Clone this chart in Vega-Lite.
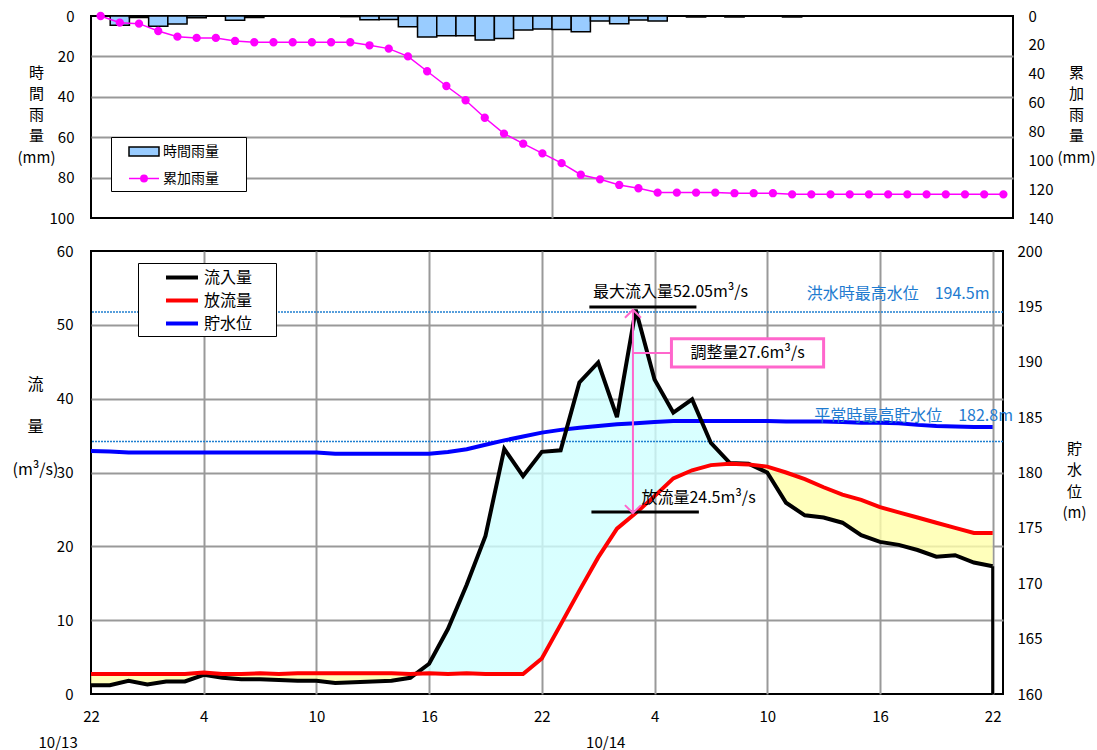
{
  "$schema": "https://vega.github.io/schema/vega-lite/v6.json",
  "padding": {"left": 11, "top": 7, "right": 5, "bottom": 2},
  "config": {
    "font": "Noto Sans CJK JP",
    "view": {"stroke": "black", "strokeWidth": 2},
    "axis": {"labelColor": "black", "titleColor": "black", "labelFontSize": 15, "labelFontWeight": "normal", "titleFontWeight": "normal", "labelFlush": false, "labelOverlap": false},
    "text": {"font": "Noto Sans CJK JP"}
  },
  "datasets": {
    "rain": [
      {"i":0,"rain":0,"cum":0},{"i":1,"rain":4.6,"cum":4.6},{"i":2,"rain":0.7,"cum":5.3},{"i":3,"rain":5.1,"cum":10.4},
      {"i":4,"rain":3.9,"cum":14.3},{"i":5,"rain":0.9,"cum":15.2},{"i":6,"rain":0,"cum":15.2},{"i":7,"rain":2.1,"cum":17.3},
      {"i":8,"rain":0.8,"cum":18.2},{"i":9,"rain":0,"cum":18.2},{"i":10,"rain":0,"cum":18.2},{"i":11,"rain":0,"cum":18.2},
      {"i":12,"rain":0,"cum":18.2},{"i":13,"rain":0.3,"cum":18.2},{"i":14,"rain":1.9,"cum":20.3},{"i":15,"rain":1.7,"cum":22.6},
      {"i":16,"rain":5.3,"cum":28.0},{"i":17,"rain":10.4,"cum":38.3},{"i":18,"rain":9.8,"cum":48.5},{"i":19,"rain":9.8,"cum":58.4},
      {"i":20,"rain":11.9,"cum":70.5},{"i":21,"rain":11.2,"cum":81.5},{"i":22,"rain":6.9,"cum":88.5},{"i":23,"rain":6.4,"cum":95.2},
      {"i":24,"rain":6.7,"cum":102.0},{"i":25,"rain":7.8,"cum":110.0},{"i":26,"rain":2.5,"cum":113.2},{"i":27,"rain":3.8,"cum":117.1},
      {"i":28,"rain":2.0,"cum":119.4},{"i":29,"rain":2.5,"cum":122.4},{"i":30,"rain":0,"cum":122.4},{"i":31,"rain":0.5,"cum":122.4},
      {"i":32,"rain":0,"cum":122.4},{"i":33,"rain":0.5,"cum":122.8},{"i":34,"rain":0,"cum":122.8},{"i":35,"rain":0,"cum":122.8},
      {"i":36,"rain":0.5,"cum":123.6},{"i":37,"rain":0,"cum":123.6},{"i":38,"rain":0,"cum":123.6},{"i":39,"rain":0,"cum":123.6},
      {"i":40,"rain":0,"cum":123.6},{"i":41,"rain":0,"cum":123.6},{"i":42,"rain":0,"cum":123.6},{"i":43,"rain":0,"cum":123.6},
      {"i":44,"rain":0,"cum":123.6},{"i":45,"rain":0,"cum":123.6},{"i":46,"rain":0,"cum":123.6},{"i":47,"rain":0,"cum":123.6}
    ],
    "flow": [
      {"h":0,"in":1.2,"out":2.7,"lvl":181.95},{"h":1,"in":1.2,"out":2.7,"lvl":181.9},{"h":2,"in":1.8,"out":2.7,"lvl":181.8},
      {"h":3,"in":1.3,"out":2.7,"lvl":181.8},{"h":4,"in":1.7,"out":2.7,"lvl":181.8},{"h":5,"in":1.7,"out":2.7,"lvl":181.8},
      {"h":6,"in":2.6,"out":2.9,"lvl":181.8},{"h":7,"in":2.2,"out":2.7,"lvl":181.8},{"h":8,"in":2.0,"out":2.7,"lvl":181.8},
      {"h":9,"in":2.0,"out":2.8,"lvl":181.8},{"h":10,"in":1.9,"out":2.7,"lvl":181.8},{"h":11,"in":1.8,"out":2.8,"lvl":181.8},
      {"h":12,"in":1.8,"out":2.8,"lvl":181.8},{"h":13,"in":1.5,"out":2.8,"lvl":181.7},{"h":14,"in":1.6,"out":2.8,"lvl":181.7},
      {"h":15,"in":1.7,"out":2.8,"lvl":181.7},{"h":16,"in":1.8,"out":2.8,"lvl":181.7},{"h":17,"in":2.2,"out":2.7,"lvl":181.7},
      {"h":18,"in":4.1,"out":2.8,"lvl":181.7},{"h":19,"in":8.8,"out":2.7,"lvl":181.85},{"h":20,"in":14.8,"out":2.8,"lvl":182.1},
      {"h":21,"in":21.4,"out":2.7,"lvl":182.5},{"h":22,"in":33.2,"out":2.7,"lvl":182.9},{"h":23,"in":29.5,"out":2.7,"lvl":183.25},
      {"h":24,"in":32.8,"out":4.8,"lvl":183.6},{"h":25,"in":33.0,"out":9.4,"lvl":183.85},{"h":26,"in":42.2,"out":14.0,"lvl":184.05},
      {"h":27,"in":44.9,"out":18.5,"lvl":184.2},{"h":28,"in":37.5,"out":22.4,"lvl":184.35},{"h":29,"in":52.05,"out":24.5,"lvl":184.45},
      {"h":30,"in":42.6,"out":26.8,"lvl":184.55},{"h":31,"in":38.1,"out":29.2,"lvl":184.65},{"h":32,"in":39.9,"out":30.3,"lvl":184.65},
      {"h":33,"in":34.0,"out":31.0,"lvl":184.65},{"h":34,"in":31.3,"out":31.2,"lvl":184.65},{"h":35,"in":31.2,"out":31.1,"lvl":184.65},
      {"h":36,"in":30.0,"out":30.8,"lvl":184.65},{"h":37,"in":25.9,"out":30.0,"lvl":184.6},{"h":38,"in":24.2,"out":29.1,"lvl":184.6},
      {"h":39,"in":23.9,"out":28.0,"lvl":184.6},{"h":40,"in":23.2,"out":27.0,"lvl":184.55},{"h":41,"in":21.5,"out":26.3,"lvl":184.5},
      {"h":42,"in":20.6,"out":25.3,"lvl":184.5},{"h":43,"in":20.2,"out":24.6,"lvl":184.45},{"h":44,"in":19.5,"out":23.9,"lvl":184.3},
      {"h":45,"in":18.6,"out":23.2,"lvl":184.2},{"h":46,"in":18.8,"out":22.5,"lvl":184.15},{"h":47,"in":17.8,"out":21.8,"lvl":184.1},
      {"h":48,"in":17.3,"out":21.8,"lvl":184.1}
    ],
    "one": [{"n": 1}]
  },
  "spacing": 33,
  "bounds": "flush",
  "resolve": {"scale": {"color": "independent", "fill": "independent", "stroke": "independent", "shape": "independent"}, "legend": {"color": "independent", "fill": "independent", "stroke": "independent", "shape": "independent"}},
  "vconcat": [
    {
      "width": 922,
      "height": 202,
      "data": {"name": "rain"},
      "encoding": {
        "x": {"field": "i", "type": "ordinal", "scale": {"paddingInner": 0, "paddingOuter": 0},
          "axis": {"values": [24], "bandPosition": 0, "grid": true, "gridColor": "#999999", "gridWidth": 2, "labels": false, "ticks": false, "domain": false, "title": null}}
      },
      "layer": [
        {
          "mark": {"type": "bar", "stroke": "black", "strokeWidth": 1.5},
          "encoding": {
            "y": {"field": "rain", "type": "quantitative", "scale": {"domain": [0, 100], "reverse": true, "nice": false},
              "axis": {"orient": "left", "values": [0, 20, 40, 60, 80, 100], "grid": true,
                "gridColor": {"condition": {"test": "datum.value == 0 || datum.value == 100", "value": "transparent"}, "value": "#999999"},
                "gridWidth": 2, "ticks": false, "domain": false, "labelPadding": 17, "labelFontSize": 15,
                "title": ["時", "間", "雨", "量", "(mm)"], "titleAngle": 0, "titleX": -55, "titleY": 49, "titleAlign": "center", "titleBaseline": "top", "titleLineHeight": 21.3, "titleFontSize": 15}},
            "fill": {"datum": "時間雨量", "type": "nominal",
              "scale": {"domain": ["時間雨量", "累加雨量"], "range": ["#99ccff", "#ff00ff"]},
              "legend": {"orient": "none", "legendX": 20, "legendY": 121, "title": null,
                "fillColor": "white", "strokeColor": "black",
                "padding": 5.5, "symbolOffset": 18.5, "labelOffset": 10, "rowPadding": 10, "symbolSize": 256, "symbolStrokeWidth": 1.5, "symbolOpacity": 1,
                "labelFontSize": 14, "labelColor": "black", "labelExpr": "datum.label + '\u3000\u2002\u200b'"}}
          }
        },
        {
          "mark": {"type": "line", "strokeWidth": 1.5, "point": {"filled": true, "size": 40, "color": "#ff00ff"}},
          "encoding": {
            "y": {"field": "cum", "type": "quantitative", "scale": {"domain": [0, 140], "reverse": true, "nice": false},
              "axis": {"orient": "right", "values": [0, 20, 40, 60, 80, 100, 120, 140], "grid": false, "ticks": false, "domain": false,
                "labelPadding": 15, "labelFontSize": 15,
                "title": ["累", "加", "雨", "量", "(mm)"], "titleAngle": 0, "titleX": 63, "titleY": 49, "titleAlign": "center", "titleBaseline": "top", "titleLineHeight": 21.3, "titleFontSize": 15}},
            "stroke": {"datum": "累加雨量", "type": "nominal",
              "scale": {"domain": ["時間雨量", "累加雨量"], "range": ["black", "#ff00ff"]},
              "legend": {"orient": "none", "legendX": 20, "legendY": 121, "title": null,
                "fillColor": "white", "strokeColor": "black",
                "padding": 5.5, "symbolOffset": 18.5, "labelOffset": 10, "rowPadding": 10, "symbolSize": 256, "symbolStrokeWidth": 1.5, "symbolOpacity": 1,
                "labelFontSize": 14, "labelColor": "black", "labelExpr": "datum.label + '\u3000\u2002\u200b'"}}
          }
        },
        {
          "mark": {"type": "point", "opacity": 0},
          "encoding": {
            "y": {"field": "cum", "type": "quantitative", "scale": {"domain": [0, 140], "reverse": true, "nice": false}, "axis": null},
            "shape": {"datum": "時間雨量", "type": "nominal",
              "scale": {"domain": ["時間雨量", "累加雨量"], "range": ["M-1.875,-0.56L1.875,-0.56L1.875,0.56L-1.875,0.56Z", "M-1.875,0L1.875,0M-0.4,0A0.4,0.4,0,1,1,0.4,0A0.4,0.4,0,1,1,-0.4,0"]},
              "legend": {"orient": "none", "legendX": 20, "legendY": 121, "title": null,
                "fillColor": "white", "strokeColor": "black",
                "padding": 5.5, "symbolOffset": 18.5, "labelOffset": 10, "rowPadding": 10, "symbolSize": 256, "symbolStrokeWidth": 1.5, "symbolOpacity": 1,
                "labelFontSize": 14, "labelColor": "black", "labelExpr": "datum.label + '\u3000\u2002\u200b'"}}
          }
        }
      ],
      "resolve": {"scale": {"y": "independent"}}
    },
    {
      "width": 912,
      "height": 443,
      "data": {"name": "flow"},
      "layer": [
        {
          "mark": {"type": "area", "opacity": 0.8,
            "color": {"gradient": "linear", "x1": 0, "y1": 0, "x2": 1, "y2": 0, "stops": [
              {"offset": 0, "color": "#ffffaa"}, {"offset": 0.36, "color": "#ffffaa"},
              {"offset": 0.36, "color": "#cfffff"}, {"offset": 0.7315, "color": "#cfffff"},
              {"offset": 0.7315, "color": "#ffffaa"}, {"offset": 1, "color": "#ffffaa"}]}},
          "encoding": {
            "x": {"field": "h", "type": "quantitative", "scale": {"domain": [0, 48.55], "nice": false, "zero": false},
              "axis": {"values": [0, 6, 12, 18, 24, 30, 36, 42, 48], "labelExpr": "(datum.value + 22) % 24", "grid": true,
                "gridColor": {"condition": {"test": "datum.value == 0", "value": "transparent"}, "value": "#999999"},
                "gridWidth": 2, "ticks": false, "domain": false, "labelPadding": 15, "labelFontSize": 15, "title": null}},
            "y": {"field": "in", "type": "quantitative", "scale": {"domain": [0, 60], "nice": false},
              "axis": {"orient": "left", "values": [0, 10, 20, 30, 40, 50, 60], "grid": true,
                "gridColor": {"condition": {"test": "datum.value == 0 || datum.value == 60", "value": "transparent"}, "value": "#999999"},
                "gridWidth": 2, "ticks": false, "domain": false, "labelPadding": 18, "labelFontSize": 15,
                "title": ["流", "量", "(m³/s)"], "titleAngle": 0, "titleX": -56, "titleY": 125, "titleAlign": "center", "titleBaseline": "top", "titleLineHeight": 42.5, "titleFontSize": 16}},
            "y2": {"field": "out"}
          }
        },
        {
          "layer": [
            {
              "data": {"name": "one"},
              "mark": {"type": "rule", "color": "#1f7fd0", "strokeWidth": 1.5, "strokeDash": [2, 1]},
              "encoding": {"y": {"datum": 194.5, "type": "quantitative"}}
            },
            {
              "data": {"name": "one"},
              "mark": {"type": "rule", "color": "#1f7fd0", "strokeWidth": 1.5, "strokeDash": [2, 1]},
              "encoding": {"y": {"datum": 182.8, "type": "quantitative"}}
            },
            {
              "mark": {"type": "line", "strokeWidth": 4},
              "encoding": {
                "x": {"field": "h", "type": "quantitative"},
                "y": {"field": "lvl", "type": "quantitative", "scale": {"domain": [160, 200], "nice": false, "zero": false},
                  "axis": {"orient": "right", "values": [160, 165, 170, 175, 180, 185, 190, 195, 200], "grid": false, "ticks": false, "domain": false,
                    "labelPadding": 14, "labelFontSize": 15,
                    "title": ["貯", "水", "位", "(m)"], "titleAngle": 0, "titleX": 71, "titleY": 190, "titleAlign": "center", "titleBaseline": "top", "titleLineHeight": 21.5, "titleFontSize": 15}},
                "color": {"datum": "貯水位", "type": "nominal"}
              }
            },
            {
              "data": {"name": "one"},
              "mark": {"type": "text", "align": "left", "baseline": "middle", "fontSize": 16, "color": "#1e7bd0"},
              "encoding": {"x": {"datum": 38.1, "type": "quantitative"}, "y": {"datum": 196.1, "type": "quantitative"}, "text": {"value": "洪水時最高水位　194.5m"}}
            },
            {
              "data": {"name": "one"},
              "mark": {"type": "text", "align": "left", "baseline": "middle", "fontSize": 16, "color": "#1e7bd0"},
              "encoding": {"x": {"datum": 38.5, "type": "quantitative"}, "y": {"datum": 185.1, "type": "quantitative"}, "text": {"value": "平常時最高貯水位　182.8m"}}
            }
          ]
        },
        {
          "layer": [
            {
              "mark": {"type": "line", "strokeWidth": 4},
              "encoding": {
                "x": {"field": "h", "type": "quantitative"},
                "y": {"field": "in", "type": "quantitative", "scale": {"domain": [0, 60], "nice": false}, "axis": null},
                "color": {"datum": "流入量", "type": "nominal",
                  "scale": {"domain": ["流入量", "放流量", "貯水位"], "range": ["black", "#ff0000", "#0000ff"]},
                  "legend": {"orient": "none", "legendX": 47, "legendY": 12, "title": null,
                    "fillColor": "white", "strokeColor": "black",
                    "padding": 4.5, "symbolOffset": 29.5, "labelOffset": 12, "rowPadding": 5, "symbolSize": 256,
                    "symbolType": "M-2,0L2,0", "symbolStrokeWidth": 4, "labelFontSize": 16, "labelColor": "black",
                    "labelExpr": "datum.label + '\u3000\u2009\u200b'"}}
              }
            },
            {
              "data": {"name": "one"},
              "mark": {"type": "rule", "color": "black", "strokeWidth": 3},
              "encoding": {"x": {"datum": 48, "type": "quantitative"}, "y": {"datum": 17.3, "type": "quantitative"}, "y2": {"datum": 0}}
            },
            {
              "mark": {"type": "line", "strokeWidth": 4},
              "encoding": {
                "x": {"field": "h", "type": "quantitative"},
                "y": {"field": "out", "type": "quantitative"},
                "color": {"datum": "放流量", "type": "nominal"}
              }
            },
            {
              "data": {"name": "one"},
              "mark": {"type": "rule", "color": "black", "strokeWidth": 3},
              "encoding": {"x": {"datum": 26.53, "type": "quantitative"}, "x2": {"datum": 32.23}, "y": {"datum": 52.4, "type": "quantitative"}}
            },
            {
              "data": {"name": "one"},
              "mark": {"type": "rule", "color": "black", "strokeWidth": 3},
              "encoding": {"x": {"datum": 26.64, "type": "quantitative"}, "x2": {"datum": 32.36}, "y": {"datum": 24.65, "type": "quantitative"}}
            },
            {
              "data": {"name": "one"},
              "mark": {"type": "rule", "color": "#ff66cc", "strokeWidth": 2},
              "encoding": {"x": {"datum": 28.85, "type": "quantitative"}, "y": {"datum": 52.05, "type": "quantitative"}, "y2": {"datum": 24.5}}
            },
            {
              "data": {"name": "one"},
              "mark": {"type": "point", "shape": "M-1,1L0,0L1,1", "filled": false, "color": "#ff66cc", "strokeWidth": 2, "size": 256, "opacity": 1},
              "encoding": {"x": {"datum": 28.85, "type": "quantitative"}, "y": {"datum": 52.05, "type": "quantitative"}}
            },
            {
              "data": {"name": "one"},
              "mark": {"type": "point", "shape": "M-1,-1L0,0L1,-1", "filled": false, "color": "#ff66cc", "strokeWidth": 2, "size": 256, "opacity": 1},
              "encoding": {"x": {"datum": 28.85, "type": "quantitative"}, "y": {"datum": 24.5, "type": "quantitative"}}
            },
            {
              "data": {"name": "one"},
              "mark": {"type": "rule", "color": "#ff66cc", "strokeWidth": 2},
              "encoding": {"x": {"datum": 28.85, "type": "quantitative"}, "x2": {"datum": 30.9}, "y": {"datum": 46.2, "type": "quantitative"}}
            },
            {
              "data": {"name": "one"},
              "mark": {"type": "rect", "fill": "white", "stroke": "#ff66cc", "strokeWidth": 3},
              "encoding": {"x": {"datum": 30.9, "type": "quantitative"}, "x2": {"datum": 39.0}, "y": {"datum": 48.1, "type": "quantitative"}, "y2": {"datum": 44.3}}
            },
            {
              "data": {"name": "one"},
              "mark": {"type": "text", "align": "center", "baseline": "middle", "fontSize": 16, "color": "black"},
              "encoding": {"x": {"datum": 34.95, "type": "quantitative"}, "y": {"datum": 46.2, "type": "quantitative"}, "text": {"value": "調整量27.6m³/s"}}
            },
            {
              "data": {"name": "one"},
              "mark": {"type": "text", "align": "center", "baseline": "middle", "fontSize": 16, "color": "black"},
              "encoding": {"x": {"datum": 30.85, "type": "quantitative"}, "y": {"datum": 54.4, "type": "quantitative"}, "text": {"value": "最大流入量52.05m³/s"}}
            },
            {
              "data": {"name": "one"},
              "mark": {"type": "text", "align": "left", "baseline": "middle", "fontSize": 16, "color": "black"},
              "encoding": {"x": {"datum": 29.3, "type": "quantitative"}, "y": {"datum": 26.6, "type": "quantitative"}, "text": {"value": "放流量24.5m³/s"}}
            },
            {
              "data": {"name": "one"},
              "mark": {"type": "text", "align": "center", "baseline": "middle", "fontSize": 15, "color": "black"},
              "encoding": {"x": {"datum": -1.75, "type": "quantitative"}, "y": {"datum": -6.6, "type": "quantitative"}, "text": {"value": "10/13"}}
            },
            {
              "data": {"name": "one"},
              "mark": {"type": "text", "align": "center", "baseline": "middle", "fontSize": 15, "color": "black"},
              "encoding": {"x": {"datum": 27.4, "type": "quantitative"}, "y": {"datum": -6.6, "type": "quantitative"}, "text": {"value": "10/14"}}
            }
          ]
        }
      ],
      "resolve": {"scale": {"y": "independent"}}
    }
  ]
}
